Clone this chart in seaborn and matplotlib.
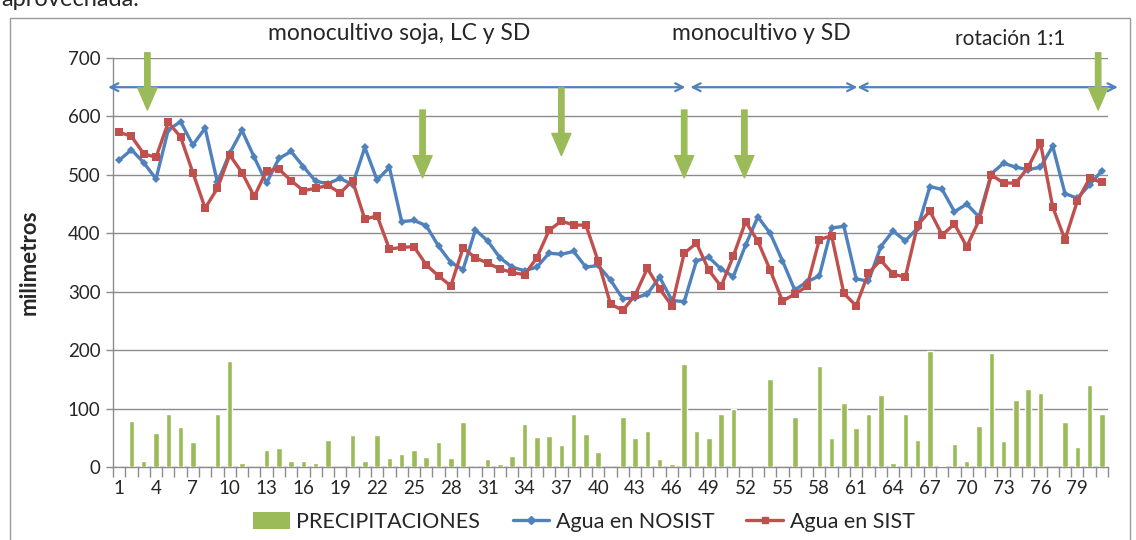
import numpy as np
import pandas as pd
import matplotlib
matplotlib.use("Agg")
import matplotlib.pyplot as plt
import seaborn as sns
from matplotlib.patches import Patch, Rectangle
from matplotlib.lines import Line2D

# ---- data ----
periodos = list(range(1, 82))

precipitaciones = [0, 79, 11, 58, 90, 69, 42, 0, 91, 181,
                   6, 0, 29, 33, 10, 11, 7, 47, 0, 54,
                   11, 54, 15, 23, 29, 17, 43, 15, 77, 0,
                   14, 5, 18, 74, 51, 53, 37, 90, 57, 26,
                   0, 85, 50, 61, 14, 5, 176, 61, 49, 90,
                   100, 0, 0, 150, 0, 85, 0, 173, 49, 109,
                   66, 90, 124, 6, 90, 46, 198, 1, 40, 11,
                   70, 195, 44, 114, 133, 126, 0, 77, 35, 140,
                   90]

agua_nosist = [525, 543, 521, 493, 577, 591, 551, 580, 487, 537,
               576, 530, 486, 528, 540, 514, 489, 485, 494, 483,
               547, 491, 513, 420, 422, 413, 378, 350, 338, 406,
               387, 358, 342, 336, 342, 366, 364, 369, 342, 345,
               320, 288, 289, 296, 325, 285, 283, 353, 359, 339,
               326, 380, 428, 400, 353, 303, 317, 327, 409, 412,
               322, 318, 377, 404, 387, 409, 480, 475, 437, 450,
               428, 502, 520, 513, 509, 513, 549, 468, 460, 483,
               507]

agua_sist = [573, 566, 536, 530, 590, 565, 504, 443, 477, 534,
             504, 463, 507, 510, 490, 473, 477, 482, 469, 490,
             424, 430, 373, 376, 377, 346, 327, 310, 375, 358,
             349, 339, 333, 329, 358, 405, 421, 414, 414, 352,
             279, 268, 294, 340, 305, 276, 366, 383, 337, 309,
             361, 420, 386, 337, 284, 296, 309, 389, 396, 297,
             276, 332, 354, 330, 325, 414, 438, 397, 416, 377,
             422, 500, 486, 486, 513, 555, 445, 389, 455, 494,
             487]

yticks = list(range(0, 701, 100))
xtick_labels = list(range(1, 80, 3))

# periods (label, start, end) and management change arrows (position, top, tip)
tramos = [("monocultivo soja, LC y SD", 0.1, 47.1),
          ("monocultivo y SD", 47.5, 61.1),
          ("rotación 1:1", 61.1, 82.3)]
flechas = [(3.3, 709, 611), (25.7, 611, 495), (37.0, 649, 533),
           (47.0, 611, 495), (51.9, 611, 495), (80.7, 709, 611)]

verde = "#9BBB59"
azul = "#4F81BD"
rojo = "#C0504D"

sns.set_theme(style="white")
plt.rcParams["font.family"] = ["Lato", "DejaVu Sans"]

df = pd.DataFrame({"periodo": periodos,
                   "precip": precipitaciones,
                   "nosist": agua_nosist,
                   "sist": agua_sist})

fig = plt.figure(figsize=(11.36, 5.40), dpi=100)
ax = fig.add_axes([113 / 1136, 73 / 540, 995 / 1136, 409 / 540])

sns.barplot(data=df, x="periodo", y="precip", color=verde, saturation=1,
            native_scale=True, width=0.45, ax=ax, zorder=3)
sns.lineplot(data=df, x="periodo", y="nosist", color=azul, lw=2.4,
             marker="D", markersize=4, markeredgewidth=0, ax=ax, zorder=4)
sns.lineplot(data=df, x="periodo", y="sist", color=rojo, lw=2.4,
             marker="s", markersize=5.5, markeredgewidth=0, ax=ax, zorder=5)

ax.set_xlim(0.5, 81.5)
ax.set_ylim(0, 700)
ax.set_yticks(yticks)
ax.set_xticks(xtick_labels)
ax.set_xticklabels([str(v) for v in xtick_labels], fontsize=13.5)
ax.set_xticks(np.arange(0.5, 82, 1), minor=True)
ax.tick_params(axis="x", which="major", length=0, pad=9)
ax.tick_params(axis="x", which="minor", length=7, width=1, color="#8c8c8c",
               direction="out", bottom=True)
ax.tick_params(axis="y", length=5, width=1, color="#8c8c8c", labelsize=13.5,
               left=True, pad=4)
ax.set_xlabel("")
ax.set_ylabel("milimetros", fontsize=16, fontweight="bold", labelpad=20)
ax.yaxis.grid(True, color="#8c8c8c", lw=1)
ax.set_axisbelow(True)
for s in ["top", "right"]:
    ax.spines[s].set_visible(False)
for s in ["left", "bottom"]:
    ax.spines[s].set_color("#8c8c8c")
    ax.spines[s].set_linewidth(1)
if ax.get_legend():
    ax.get_legend().remove()

# period arrows and labels
for nombre, x0, x1 in tramos:
    ax.annotate("", xy=(x1, 650), xytext=(x0, 650),
                arrowprops=dict(arrowstyle="<->", color=azul, lw=1.6,
                                mutation_scale=14, shrinkA=0, shrinkB=0),
                annotation_clip=False)
ax.text(23.8, 742, tramos[0][0], ha="center", va="center", fontsize=16.5)
ax.text(53.3, 742, tramos[1][0], ha="center", va="center", fontsize=16.5)
ax.text(73.5, 732, tramos[2][0], ha="center", va="center", fontsize=15)

# green downward arrows
for xp, top, tip in flechas:
    ax.annotate("", xy=(xp, tip), xytext=(xp, top),
                arrowprops=dict(arrowstyle="simple,tail_width=0.35,head_width=1.25,head_length=1.45",
                                color=verde, mutation_scale=11,
                                shrinkA=0, shrinkB=0),
                annotation_clip=False, zorder=6)

# legend
handles = [Patch(facecolor=verde, edgecolor="none"),
           Line2D([], [], color=azul, lw=2.4, marker="D", markersize=4),
           Line2D([], [], color=rojo, lw=2.4, marker="s", markersize=5)]
fig.legend(handles, ["PRECIPITACIONES", "Agua en NOSIST", "Agua en SIST"],
           loc="center", bbox_to_anchor=(0.514, 0.033), ncol=3, frameon=False,
           fontsize=15.5, handlelength=1.7, handleheight=0.8, columnspacing=1.5,
           handletextpad=0.3)

# outer frame and clipped caption from the page
fig.patches.append(Rectangle((10 / 1136, -0.01), 1120 / 1136, 0.977,
                             transform=fig.transFigure, fill=False,
                             edgecolor="#9a9a9a", lw=1))
fig.text(0.001, 1 - 6 / 540, "aprovechada.", fontsize=17, va="baseline",
         ha="left")

fig.savefig("out.png", dpi=100)
